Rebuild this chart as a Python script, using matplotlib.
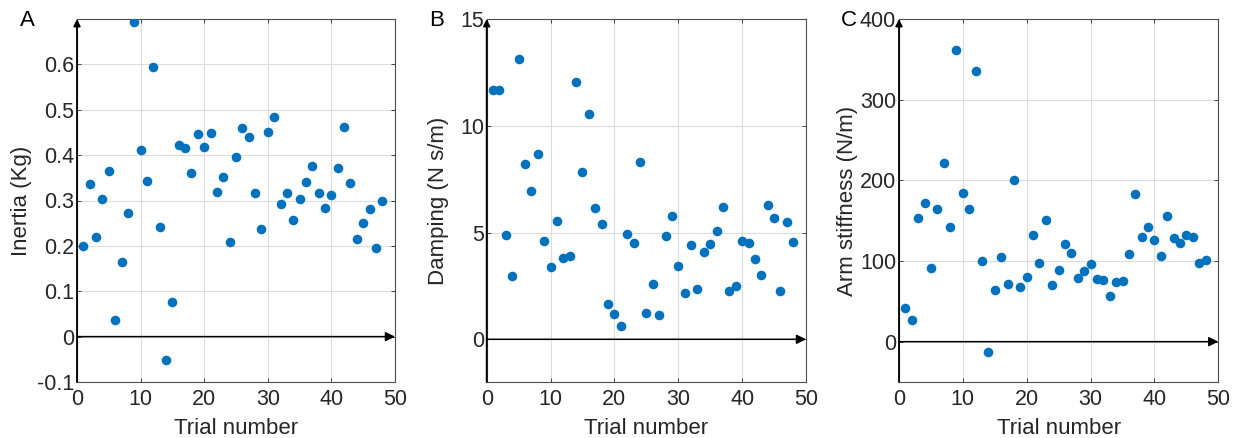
import matplotlib
matplotlib.use("Agg")
import matplotlib.pyplot as plt
import numpy as np

trials = np.arange(1, 49)

inertia = [0.200, 0.336, 0.220, 0.304, 0.365, 0.037, 0.165, 0.272, 0.693, 0.412,
           0.343, 0.594, 0.242, -0.051, 0.077, 0.422, 0.415, 0.360, 0.446, 0.418,
           0.448, 0.318, 0.351, 0.208, 0.396, 0.460, 0.440, 0.317, 0.238, 0.452,
           0.483, 0.293, 0.317, 0.256, 0.304, 0.340, 0.376, 0.317, 0.283, 0.312,
           0.371, 0.463, 0.338, 0.215, 0.250, 0.281, 0.196, 0.300]

damping = [11.66, 11.66, 4.87, 2.97, 13.13, 8.23, 6.93, 8.67, 4.59, 3.39,
           5.54, 3.79, 3.92, 12.04, 7.82, 10.55, 6.17, 5.39, 1.67, 1.17,
           0.62, 4.92, 4.51, 8.30, 1.23, 2.59, 1.16, 4.82, 5.79, 3.45,
           2.17, 4.42, 2.36, 4.11, 4.48, 5.07, 6.20, 2.25, 2.48, 4.60,
           4.51, 3.78, 3.01, 6.29, 5.70, 2.26, 5.48, 4.57]

stiffness = [41.8, 27.3, 153.3, 172.2, 91.0, 164.4, 221.0, 141.8, 361.8, 184.3,
             164.8, 335.4, 99.6, -12.8, 64.0, 104.6, 71.9, 200.4, 68.2, 80.2,
             132.6, 97.5, 150.4, 70.3, 88.8, 120.7, 110.3, 79.0, 87.6, 96.7,
             78.1, 77.0, 57.0, 73.6, 75.6, 108.7, 182.6, 129.4, 142.5, 126.4,
             106.6, 155.4, 128.1, 121.9, 132.2, 129.7, 97.1, 101.2]

panels = [
    ("A", inertia, "Inertia (Kg)", (-0.1, 0.7), [-0.1, 0, 0.1, 0.2, 0.3, 0.4, 0.5, 0.6],
     ["-0.1", "0", "0.1", "0.2", "0.3", "0.4", "0.5", "0.6"]),
    ("B", damping, "Damping (N s/m)", (-2, 15), [0, 5, 10, 15], ["0", "5", "10", "15"]),
    ("C", stiffness, "Arm stiffness (N/m)", (-50, 400), [0, 100, 200, 300, 400],
     ["0", "100", "200", "300", "400"]),
]

plt.rcParams["font.family"] = ["Liberation Sans", "DejaVu Sans"]
plt.rcParams["font.size"] = 15

fig = plt.figure(figsize=(12.45, 4.38), dpi=100)

lefts = [77, 486.7, 899]
widths = [318, 319.3, 319.3]
letter_x = [27, 437, 849]
ylabel_x = [22, 438, 848]
txt = "#262626"

for (letter, vals, ylab, ylim, yt, ytl), l, w, lx, yx in zip(panels, lefts, widths, letter_x, ylabel_x):
    ax = fig.add_axes([l / 1245, 1 - 382 / 438, w / 1245, 363 / 438])
    ax.scatter(trials, vals, s=48, color="#0072BD", zorder=3, linewidths=0)
    ax.set_xlim(0, 50)
    ax.set_ylim(*ylim)
    ax.set_xticks([0, 10, 20, 30, 40, 50])
    ax.set_yticks(yt)
    ax.set_yticklabels(ytl)
    ax.grid(True, color="#dcdcdc", linewidth=0.8)
    ax.set_axisbelow(True)
    ax.tick_params(direction="in", top=True, right=True, length=3, width=0.6,
                   colors=txt, labelsize=15.5)
    ax.tick_params(axis="y", pad=2)
    ax.tick_params(axis="x", pad=5)
    for sp in ax.spines.values():
        sp.set_color("#4d4d4d")
        sp.set_linewidth(0.8)
    # zero lines with arrowheads
    ax.annotate("", xy=(50, 0), xytext=(0, 0),
                arrowprops=dict(arrowstyle="-|>", color="black", lw=1.1,
                                mutation_scale=14, shrinkA=0, shrinkB=0),
                annotation_clip=False, zorder=4)
    ax.annotate("", xy=(0, ylim[1]), xytext=(0, ylim[0]),
                arrowprops=dict(arrowstyle="-|>", color="black", lw=1.3,
                                mutation_scale=10, shrinkA=0, shrinkB=0),
                annotation_clip=False, zorder=4)
    ax.set_xlabel("Trial number", color=txt, fontsize=16, labelpad=6)
    ax.set_ylabel(ylab, color=txt, fontsize=16, va="center")
    ax.yaxis.set_label_coords((yx - l) / w, 0.5)
    fig.text(lx / 1245, 1 - 21 / 438, letter, fontsize=16, color="black",
             ha="center", va="center")

fig.savefig("out.png", dpi=100)
